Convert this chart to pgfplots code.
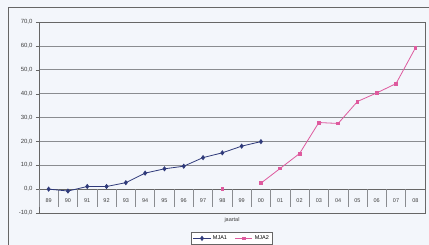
\documentclass[border=0pt]{standalone}
\usepackage{pgfplots}
\pgfplotsset{compat=1.18}
\usepackage{fontspec}
\setmainfont{Liberation Sans}
\definecolor{bgc}{HTML}{F3F6FB}
\definecolor{gridc}{HTML}{8A8C90}
\definecolor{mjaone}{HTML}{2F3A7A}
\definecolor{mjatwo}{HTML}{DE5A9E}
\begin{document}
\begin{tikzpicture}
\fill[bgc] (0,0) rectangle (429pt,245pt);
\useasboundingbox (0,0) rectangle (429pt,245pt);
\draw[gray!80!black, line width=0.8pt] (8pt,0) -- (8pt,238pt) -- (429pt,238pt);
\begin{axis}[
  at={(39pt,32pt)}, anchor=south west,
  scale only axis, width=386pt, height=191pt,
  xmin=-0.5, xmax=19.5, ymin=-10, ymax=70,
  ytick={-10,0,...,70},
  xtick={0,...,19},
  ytick pos=left, xtick pos=bottom,
  xticklabels={89,90,91,92,93,94,95,96,97,98,99,00,01,02,03,04,05,06,07,08},
  major x tick style={draw=none},
  xticklabel style={anchor=center, yshift=14.9pt, font=\fontsize{5.5}{6.5}\selectfont, text=black!75},
  yticklabel style={font=\fontsize{6}{7}\selectfont, text=black!75},
  /pgf/number format/assume math mode=true,
  /pgf/number format/.cd, fixed, fixed zerofill, precision=1, use comma,
  /pgfplots/.cd,
  ymajorgrids, grid style={gridc, line width=0.6pt},
  axis line style={gridc, line width=0.6pt},
  y axis line style={black!60, line width=0.7pt},
  tick align=outside, major tick length=3pt,
  ytick style={black!60},
  xlabel={jaartal},
  xlabel style={at={(axis description cs:0.5,0)}, anchor=north, yshift=-1pt, font=\fontsize{5.5}{6.5}\selectfont, text=black!75},
  unbounded coords=jump,
  legend style={at={(axis description cs:0.5,0)}, anchor=north, yshift=-19pt,
    font=\fontsize{5.5}{6.5}\selectfont, draw=black!60, fill=white, legend columns=2,
    /tikz/every even column/.append style={column sep=6pt}, inner sep=1.5pt},
  legend cell align=left,
]
\draw[black!60, line width=0.7pt] (axis cs:-0.5,0) -- (axis cs:19.5,0);
\pgfplotsinvokeforeach{-0.5,0.5,...,19.5}{
  \draw[gridc, line width=0.6pt] (axis cs:#1,0) -- (axis cs:#1,-7.5);
}
\addplot[mjaone, line width=0.8pt, mark=diamond*, mark size=2pt, mark options={solid}]
  coordinates {(0,0) (1,-0.8) (2,1.1) (3,1.1) (4,2.7) (5,6.7) (6,8.5) (7,9.6) (8,13.2) (9,15.2) (10,18.0) (11,19.9)};
\addlegendentry{MJA1}
\addplot[mjatwo, line width=0.8pt, mark=square*, mark size=1.4pt, mark options={solid}]
  coordinates {(9,0) (10,nan) (11,2.5) (12,8.7) (13,14.9) (14,27.9) (15,27.5) (16,36.7) (17,40.3) (18,44.2) (19,59.1)};
\addlegendentry{MJA2}
\end{axis}
\end{tikzpicture}
\end{document}
